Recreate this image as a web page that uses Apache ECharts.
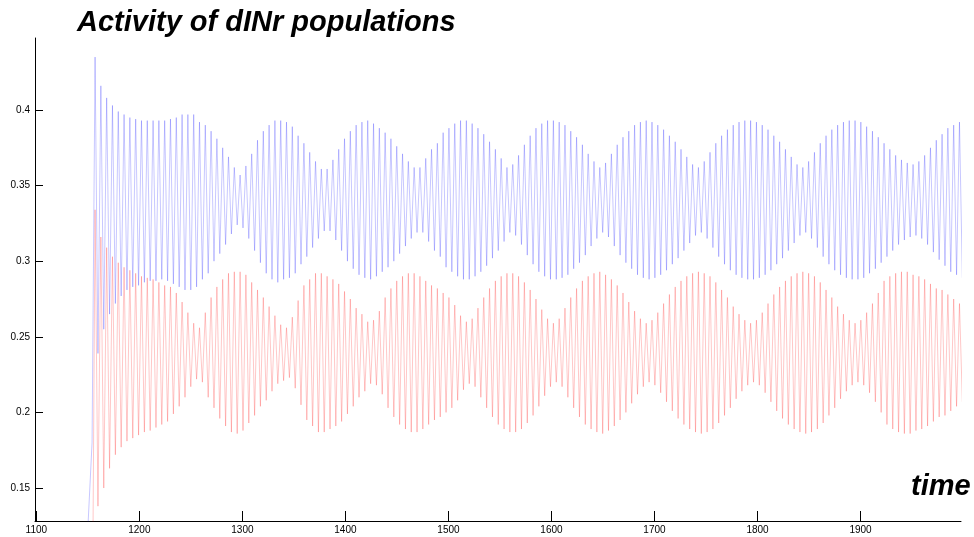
<!DOCTYPE html>
<html>
<head>
<meta charset="utf-8">
<script src="https://cdn.jsdelivr.net/npm/echarts@6/dist/echarts.min.js"></script>
<style>html,body{margin:0;padding:0;background:#fff}#c{width:974px;height:537px}</style>
</head>
<body>
<div id="c"></div>
<script>
// Cycle timing (first spike and spike spacing)
const firstSpikeTime = 1157.0;
const cyclePeriod = 5.631;
// Start of each trace (below the axis floor)
const blueStart = [[1148.3, 0.10], [1154.1, 0.18]];
const redStart = [[1155.0, 0.12]];
// Blue population: peak and following trough per cycle (thousandths)
const bluePeaks = [435,416,408,403,399,397,395,394,393,393,
 393,393,393,394,395,397,397,397,392,390,
 386,381,375,369,362,357,363,371,380,386,
 390,393,393,392,389,383,378,372,366,361,
 361,367,374,381,386,390,392,393,391,388,
 385,381,376,371,366,362,362,368,374,378,
 385,388,391,393,393,391,388,384,379,374,
 368,362,364,370,377,383,388,391,393,393,
 392,390,386,382,377,371,366,362,365,371,
 377,382,386,390,392,393,392,390,387,383,
 379,374,369,364,362,366,372,378,383,387,
 390,392,393,393,392,390,387,383,379,374,
 369,364,362,366,372,378,383,387,390,392,
 393,393,392,389,386,382,378,374,370,367,
 365,364,366,370,375,380,384,388,390,392];
const blueTroughs = [239,255,265,272,277,281,283,284,286,287,
 287,288,287,285,283,281,281,283,288,292,
 300,305,311,318,324,322,315,307,299,292,
 288,286,288,289,292,298,303,309,315,320,
 320,314,307,300,295,291,289,288,290,293,
 296,300,305,310,315,319,319,313,307,303,
 296,293,290,288,288,290,293,297,302,307,
 313,319,317,311,304,298,293,290,288,288,
 289,291,295,299,304,310,315,319,316,310,
 304,299,295,291,289,288,289,291,294,298,
 302,307,312,317,319,315,309,303,298,294,
 291,289,288,288,289,291,294,298,302,307,
 312,317,319,315,309,303,298,294,291,289,
 288,288,289,292,295,299,303,307,311,314,
 316,317,315,311,306,301,297,293,291,289];
// Red population: peak and following trough per cycle (thousandths)
const redPeaks = [334,316,309,303,299,296,294,292,290,289,
 288,286,284,283,279,273,266,259,256,266,
 276,283,288,292,293,293,291,286,281,276,
 270,264,258,256,263,274,284,288,292,292,
 290,288,285,280,275,269,265,260,261,267,
 276,282,287,290,292,292,290,287,284,282,
 279,276,271,264,260,262,269,276,282,287,
 290,292,292,290,286,281,275,268,262,259,
 262,269,276,282,287,290,292,293,291,288,
 284,279,273,267,262,259,261,266,272,278,
 283,287,290,292,293,292,290,286,281,276,
 270,265,261,259,261,266,272,278,283,287,
 290,292,293,292,290,286,281,276,270,265,
 261,259,261,266,272,279,287,290,292,293,
 293,291,290,288,285,282,281,278,275,272];
const redTroughs = [138,150,163,172,177,181,183,185,187,188,
 190,192,194,199,204,210,217,222,220,210,
 203,196,191,187,186,188,193,198,204,208,
 214,219,221,223,216,205,195,191,187,187,
 189,191,194,199,204,210,214,219,218,212,
 203,197,192,189,187,187,189,192,195,197,
 200,203,208,215,219,217,210,203,197,192,
 189,187,187,189,193,198,204,211,217,220,
 217,210,203,197,192,189,187,186,188,191,
 195,200,206,212,217,220,218,213,207,201,
 196,192,189,187,186,187,189,193,198,203,
 209,214,218,220,218,213,207,201,196,192,
 189,187,186,187,189,193,198,203,209,214,
 218,220,218,213,207,200,192,189,187,186,
 186,188,189,191,194,197,198,201,204,207];
const xTicks = [1100,1200,1300,1400,1500,1600,1700,1800,1900];
const yTicks = [0.15,0.2,0.25,0.3,0.35,0.4];

function buildTrace(start, peaks, troughs) {
  const pts = start.map(p => p.slice());
  for (let i = 0; i < peaks.length; i++) {
    const t = firstSpikeTime + i * cyclePeriod;
    pts.push([t, peaks[i] / 1000]);
    pts.push([t + cyclePeriod / 2, troughs[i] / 1000]);
  }
  return pts;
}

const chart = echarts.init(document.getElementById('c'), null, {renderer: 'canvas'});
const font = '"Liberation Sans", Arial, Helvetica, sans-serif';
const headStyle = {fontFamily: font, fontSize: 29, fontWeight: 'bold', fontStyle: 'italic', color: '#000'};
chart.setOption({
  animation: false,
  backgroundColor: '#fff',
  title: [
    {text: 'Activity of dINr populations', left: 77, top: 8, padding: 0, textStyle: headStyle},
    {text: 'time', left: 911, top: 472, padding: 0, textStyle: headStyle}
  ],
  grid: {left: 35, top: 38, width: 926, height: 483, containLabel: false},
  xAxis: {
    type: 'value', min: 1098.7, max: 1997.5,
    axisLine: {show: true, onZero: false, lineStyle: {color: '#000', width: 1}},
    axisTick: {show: true, inside: true, length: 10, customValues: xTicks, lineStyle: {color: '#000'}},
    axisLabel: {show: true, customValues: xTicks, margin: 4, fontSize: 10, color: '#000', fontFamily: font,
      formatter: v => String(v)},
    splitLine: {show: false}
  },
  yAxis: {
    type: 'value', min: 0.1282, max: 0.4476,
    axisLine: {show: true, lineStyle: {color: '#000', width: 1}},
    axisTick: {show: true, inside: true, length: 8, customValues: yTicks, lineStyle: {color: '#000'}},
    axisLabel: {show: true, customValues: yTicks, margin: 5, fontSize: 10, color: '#000', fontFamily: font,
      formatter: v => String(+v.toFixed(2))},
    splitLine: {show: false}
  },
  series: [
    {type: 'line', data: buildTrace(blueStart, bluePeaks, blueTroughs), showSymbol: false, symbol: 'none',
     lineStyle: {color: 'rgba(0,0,255,0.22)', width: 1}, clip: true, silent: true},
    {type: 'line', data: buildTrace(redStart, redPeaks, redTroughs), showSymbol: false, symbol: 'none',
     lineStyle: {color: 'rgba(255,0,0,0.22)', width: 1}, clip: true, silent: true}
  ]
});
</script>
</body>
</html>
